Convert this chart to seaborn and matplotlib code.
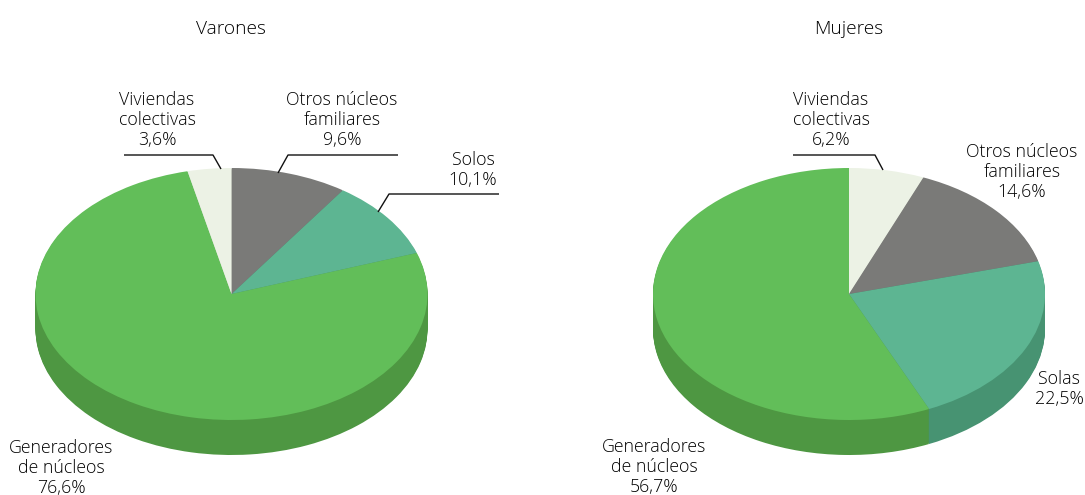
import numpy as np
import seaborn as sns
import matplotlib.pyplot as plt
from matplotlib.transforms import Affine2D

# values, clockwise from 12 o'clock
varones_cats = ["Otros núcleos\nfamiliares", "Solos", "Generadores\nde núcleos", "Viviendas\ncolectivas"]
varones_vals = [9.6, 10.1, 76.6, 3.6]
mujeres_cats = ["Viviendas\ncolectivas", "Otros núcleos\nfamiliares", "Solas", "Generadores\nde núcleos"]
mujeres_vals = [6.2, 14.6, 22.5, 56.7]

GREY = "#7A7A78"
TEAL = "#5DB592"
GREEN = "#62BE59"
PALE = "#ECF2E5"
SIDE = {GREY: "#60605E", TEAL: "#479372", GREEN: "#4E9742", PALE: "#C5CBBE"}
TEXT = "#000000"

varones_cols = [GREY, TEAL, GREEN, PALE]
mujeres_cols = [PALE, GREY, TEAL, GREEN]

sns.set_theme(style="white")
plt.rcParams["font.family"] = ["Open Sans", "Lato", "DejaVu Sans"]
plt.rcParams["font.weight"] = "light"

W, H = 1085, 495
RX, RY, DEPTH = 196, 126, 35
CY = 294

fig = plt.figure(figsize=(W / 100, H / 100), dpi=100)
# pixel coordinates with the origin on the top left, used for labels and leaders
px = Affine2D().scale(1, -1).translate(0, H)
flat = {"linewidth": 0, "edgecolor": "none"}


def tilted_pie(x0, x1, cx, vals, cols):
    ax = fig.add_axes([x0 / W, 0, (x1 - x0) / W, 1])
    # side wall: the same pie repeated downwards in darker colours
    for off in np.arange(DEPTH, 0, -1):
        ax.pie(vals, colors=[SIDE[c] for c in cols], startangle=90, counterclock=False,
               center=(0, -off / RY), radius=1, wedgeprops=flat)
    ax.pie(vals, colors=cols, startangle=90, counterclock=False, center=(0, 0), radius=1,
           wedgeprops=flat)
    ax.set_aspect("auto")
    ax.set_xlim((x0 - cx) / RX, (x1 - cx) / RX)
    ax.set_ylim((CY - H) / RY, CY / RY)
    ax.axis("off")
    return ax


def label(x, y, name, val):
    txt = name + "\n" + f"{val:.1f}".replace(".", ",") + "%"
    fig.text(x, y, txt, transform=px, ha="center", va="center", fontsize=12.8,
             color=TEXT, linespacing=1.11, fontweight="light")


def leader(ax, xs, ys):
    ax.plot(xs, ys, transform=px, color="#111111", lw=1, clip_on=False, solid_capstyle="butt")


ax1 = tilted_pie(0, 542, 231.5, varones_vals, varones_cols)
ax2 = tilted_pie(542, W, 849, mujeres_vals, mujeres_cols)

fig.text(231, 29, "Varones", transform=px, ha="center", va="center", fontsize=13.8, color=TEXT, fontweight="light")
fig.text(849, 29, "Mujeres", transform=px, ha="center", va="center", fontsize=13.8, color=TEXT, fontweight="light")

label(157, 120, varones_cats[3], varones_vals[3])
label(342, 120, varones_cats[0], varones_vals[0])
label(473, 170, varones_cats[1], varones_vals[1])
label(61, 468, varones_cats[2], varones_vals[2])

label(831, 120, mujeres_cats[0], mujeres_vals[0])
label(1022, 172, mujeres_cats[1], mujeres_vals[1])
label(1059, 389, mujeres_cats[2], mujeres_vals[2])
label(654, 467, mujeres_cats[3], mujeres_vals[3])

leader(ax1, [124, 213, 221], [155, 155, 169])
leader(ax1, [398, 288, 278], [155, 155, 173])
leader(ax1, [499, 389, 378], [194, 194, 212])
leader(ax2, [793, 875, 883], [155, 155, 170])

fig.savefig("out.png", dpi=100)
